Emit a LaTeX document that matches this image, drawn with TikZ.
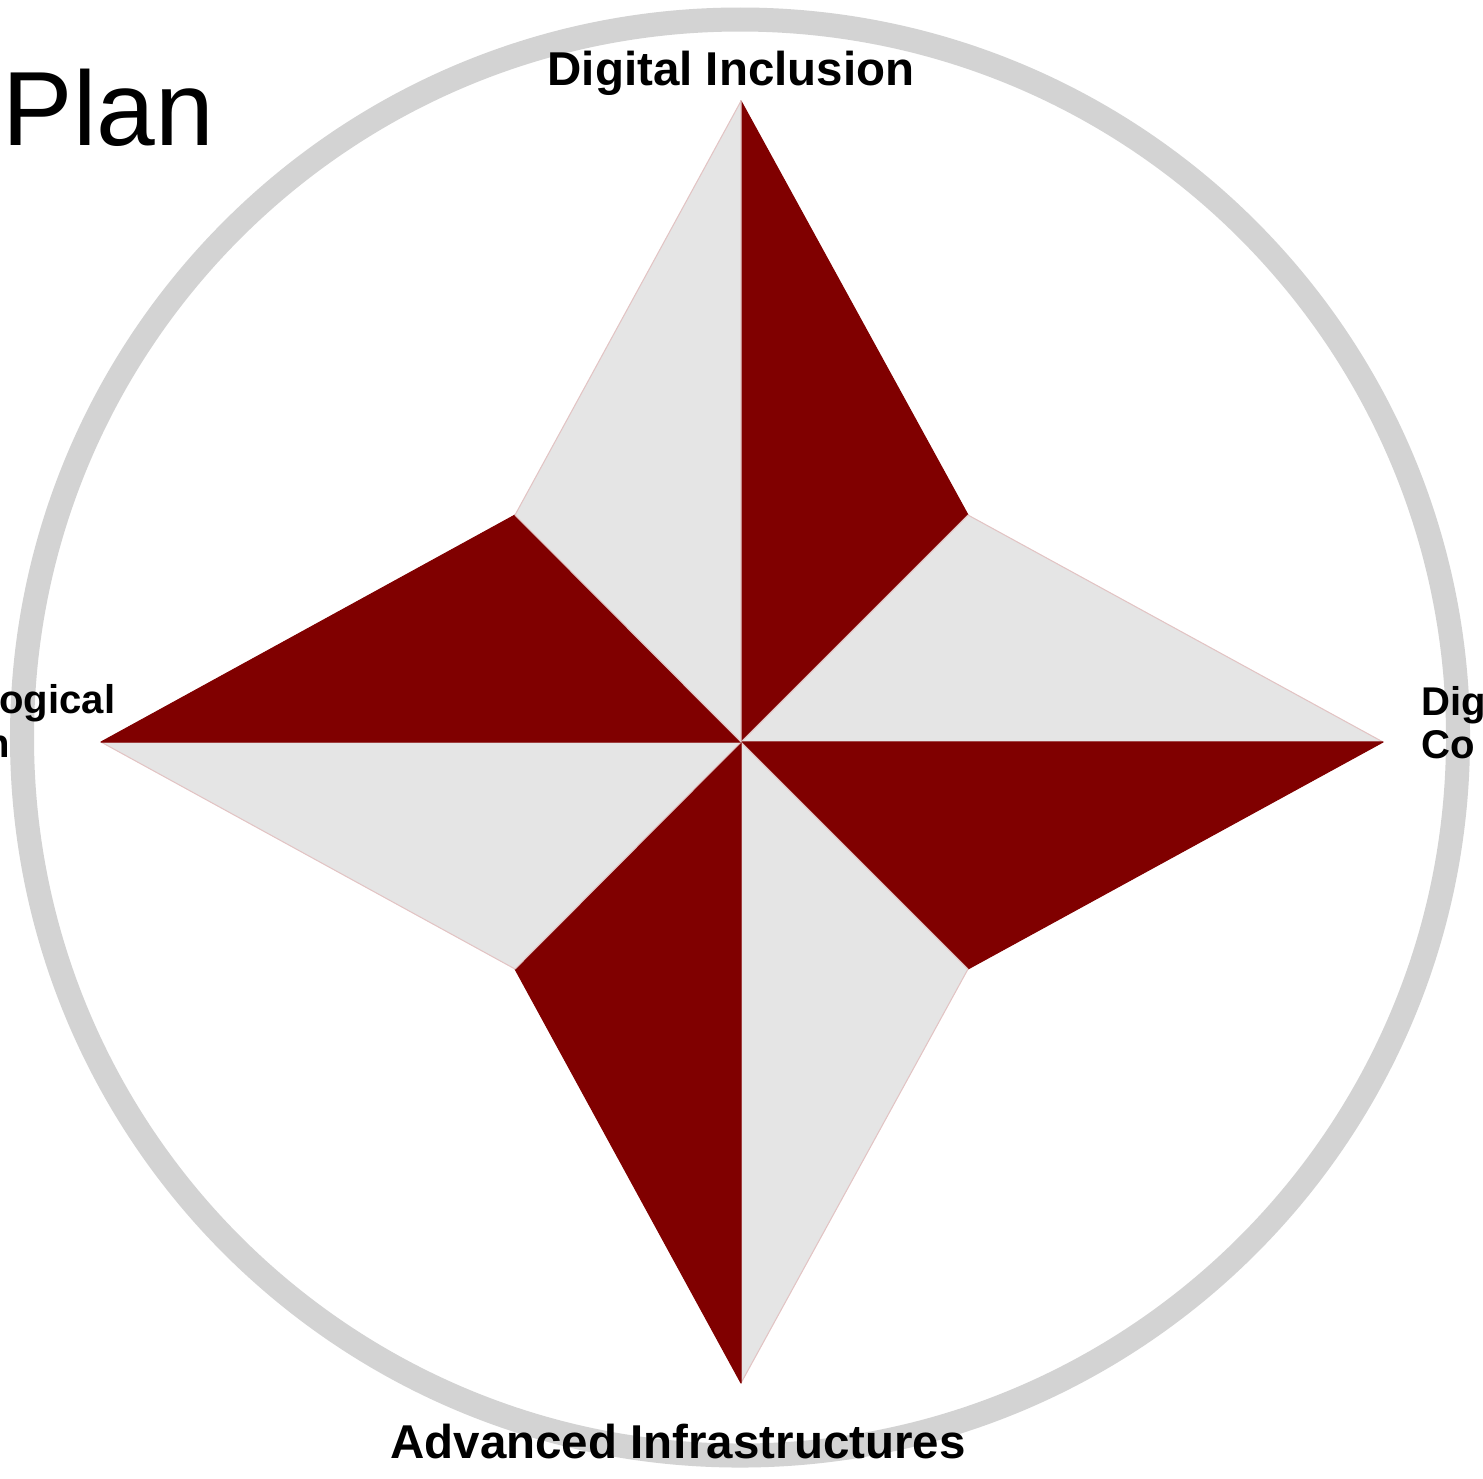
\documentclass[tikz,border=0pt]{standalone}
\usepackage{fontspec}
\setmainfont{Liberation Sans}
\definecolor{ringgray}{HTML}{D3D3D3}
\definecolor{lightgray}{HTML}{E5E5E5}
\definecolor{darkred}{HTML}{800000}
\definecolor{edgepink}{HTML}{E2C4C4}
\begin{document}
\begin{tikzpicture}[x=0.01cm,y=-0.01cm,
  darktri/.style={fill=darkred,draw=darkred,line width=0.3pt,line join=round},
  lighttri/.style={fill=lightgray,draw=edgepink,line width=0.3pt,line join=round},
  axislabel/.style={inner sep=0pt,font=\fontsize{13.5}{13.5}\selectfont\bfseries},
  sidelabel/.style={inner sep=0pt,font=\fontsize{11.4}{11.4}\selectfont\bfseries}]
\useasboundingbox (0,0) rectangle (1483,1478);
\clip (0,0) rectangle (1483,1478);
% ring
\draw[ringgray,line width=0.24cm] (740,737.5) circle (718);
% star points
\coordinate (C) at (741,742);
\coordinate (T) at (741,101);
\coordinate (NE) at (968,515);
\coordinate (R) at (1383,742);
\coordinate (SE) at (968,969);
\coordinate (B) at (741,1383);
\coordinate (SW) at (515,969);
\coordinate (L) at (101,742);
\coordinate (NW) at (515,515);
\path[darktri] (C) -- (T) -- (NE) -- cycle;
\path[lighttri] (C) -- (NE) -- (R) -- cycle;
\path[darktri] (C) -- (R) -- (SE) -- cycle;
\path[lighttri] (C) -- (SE) -- (B) -- cycle;
\path[darktri] (C) -- (B) -- (SW) -- cycle;
\path[lighttri] (C) -- (SW) -- (L) -- cycle;
\path[darktri] (C) -- (L) -- (NW) -- cycle;
\path[lighttri] (C) -- (NW) -- (T) -- cycle;
% texts
\node[inner sep=0pt,anchor=base west,font=\fontsize{30}{30}\selectfont] (plan) at (2,145) {Plan};
\node[axislabel,anchor=base] (top) at (731,85) {Digital Inclusion};
\node[axislabel,anchor=base] (bottom) at (678,1458) {Advanced Infrastructures};
\node[sidelabel,anchor=base east] (left1) at (116,713) {ogical};
\node[sidelabel,anchor=base east] (left2) at (11,757) {n};
\node[sidelabel,anchor=base west] (right1) at (1421,715) {Dig};
\node[sidelabel,anchor=base west] (right2) at (1421,758) {Co};
\end{tikzpicture}
\end{document}
